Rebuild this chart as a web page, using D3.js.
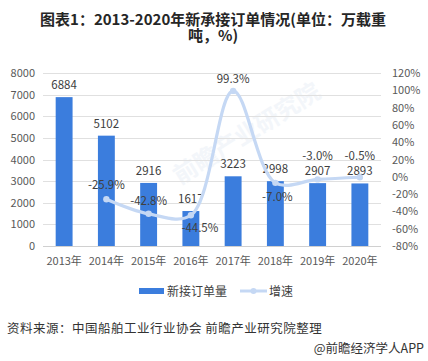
<!DOCTYPE html>
<html><head><meta charset="utf-8">
<script src="https://cdn.jsdelivr.net/npm/d3@7"></script>
<style>
body{margin:0;background:#fff;}
svg{display:block;font-family:"Noto Sans CJK SC","Noto Sans",sans-serif;}
</style></head>
<body>
<div id="chart"></div>
<script>
const categories = ["2013年","2014年","2015年","2016年","2017年","2018年","2019年","2020年"];
const orders = [6884, 5102, 2916, 1617, 3223, 2998, 2907, 2893];
const growth = [null, -25.9, -42.8, -44.5, 99.3, -7.0, -3.0, -0.5];
const leftTicks = [0,1000,2000,3000,4000,5000,6000,7000,8000];
const rightTicks = [-80,-60,-40,-20,0,20,40,60,80,100,120];
const titleLines = ["图表1：2013-2020年新承接订单情况(单位：万载重","吨，%)"];
const legendLabels = ["新接订单量","增速"];
const sourceText = "资料来源：中国船舶工业行业协会 前瞻产业研究院整理";
const creditText = "@前瞻经济学人APP";

const W = 428, H = 361;
const m = {left:43, right:381, top:73, bottom:246};
const barColor = "#3b7ddd", lineColor = "#c5d8f4";

const svg = d3.select("#chart").append("svg").attr("width",W).attr("height",H);

// title
svg.append("g").selectAll("text").data(titleLines).join("text")
  .attr("x",213).attr("y",(d,i)=>25+i*16)
  .attr("text-anchor","middle").attr("font-size","15px").attr("font-weight","bold")
  .attr("fill","#262626").text(d=>d);

const x = d3.scaleBand().domain(categories).range([m.left,m.right]).paddingInner(0.6).paddingOuter(0.3);
const yL = d3.scaleLinear().domain([0,8000]).range([m.bottom,m.top]);
const yR = d3.scaleLinear().domain([-80,120]).range([m.bottom,m.top]);

// watermark
svg.append("text").attr("transform","translate(180,185) rotate(-32)")
  .attr("font-size","24px").attr("font-weight","bold").attr("fill","#f3f6fa")
  .text("前瞻产业研究院");

// grid
svg.append("g").selectAll("line").data(leftTicks).join("line")
  .attr("x1",m.left).attr("x2",m.right)
  .attr("y1",d=>Math.round(yL(d))+0.5).attr("y2",d=>Math.round(yL(d))+0.5)
  .attr("stroke",d=>d===0?"#d0d0d0":"#e0e0e0").attr("stroke-width",1);

// left axis
const axL = svg.append("g").attr("transform",`translate(${m.left},0)`)
  .call(d3.axisLeft(yL).tickValues(leftTicks).tickFormat(d3.format("d")).tickSize(0).tickPadding(8));
axL.select(".domain").remove();
axL.selectAll("text").attr("font-size","11px").attr("fill","#595959").attr("font-family","Noto Sans CJK SC");

// right axis
const axR = svg.append("g").attr("transform",`translate(${m.right},0)`)
  .call(d3.axisRight(yR).tickValues(rightTicks).tickFormat(d=>d+"%").tickSize(0).tickPadding(11));
axR.select(".domain").remove();
axR.selectAll("text").attr("font-size","11px").attr("fill","#595959").attr("font-family","Noto Sans CJK SC");

// x axis
const axX = svg.append("g").attr("transform",`translate(0,${m.bottom})`)
  .call(d3.axisBottom(x).tickSize(0).tickPadding(11));
axX.select(".domain").remove();
axX.selectAll("text").attr("font-size","11px").attr("fill","#595959").attr("font-family","Noto Sans CJK SC");

// bars
svg.append("g").selectAll("rect").data(orders).join("rect")
  .attr("x",(d,i)=>x(categories[i])).attr("width",x.bandwidth())
  .attr("y",d=>yL(d)).attr("height",d=>yL(0)-yL(d)).attr("fill",barColor);

// bar labels
svg.append("g").selectAll("text").data(orders).join("text")
  .attr("x",(d,i)=>x(categories[i])+x.bandwidth()/2)
  .attr("y",d=>yL(d)-8).attr("text-anchor","middle")
  .attr("font-size","11.5px").attr("fill","#404040").text(d=>d);

// line
const pts = growth.map((g,i)=>({g,i})).filter(d=>d.g!==null);
const cx = i=>x(categories[i])+x.bandwidth()/2;
const line = d3.line().x(d=>cx(d.i)).y(d=>yR(d.g)).curve(d3.curveCatmullRom.alpha(0.5));
svg.append("path").datum(pts).attr("d",line).attr("fill","none")
  .attr("stroke",lineColor).attr("stroke-width",3.2).attr("stroke-linecap","round");
svg.append("g").selectAll("circle").data(pts).join("circle")
  .attr("cx",d=>cx(d.i)).attr("cy",d=>yR(d.g)).attr("r",3.2).attr("fill",lineColor);

// growth labels (placement offsets)
const gOff = {1:[0,-14],2:[0,-13],3:[9,13],4:[0,-12],5:[2,14],6:[0,-23],7:[0,-21]};
svg.append("g").selectAll("text").data(pts).join("text")
  .attr("x",d=>cx(d.i)+gOff[d.i][0]).attr("y",d=>yR(d.g)+gOff[d.i][1]+4)
  .attr("text-anchor","middle").attr("font-size","11.5px").attr("fill","#404040")
  .text(d=>d.g.toFixed(1)+"%");

// legend
const lg = svg.append("g");
lg.append("rect").attr("x",139).attr("y",288).attr("width",25).attr("height",6).attr("fill",barColor);
lg.append("text").attr("x",167).attr("y",295.5).attr("font-size","12px").attr("fill","#404040").text(legendLabels[0]);
lg.append("line").attr("x1",240).attr("x2",267).attr("y1",291).attr("y2",291).attr("stroke",lineColor).attr("stroke-width",3);
lg.append("circle").attr("cx",253.5).attr("cy",291).attr("r",3).attr("fill",lineColor);
lg.append("text").attr("x",269).attr("y",295.5).attr("font-size","12px").attr("fill","#404040").text(legendLabels[1]);

// source
svg.append("text").attr("x",7).attr("y",332.5).attr("font-size","12.5px").attr("letter-spacing","0.5px")
  .attr("fill","#333").text(sourceText);
svg.append("text").attr("x",424).attr("y",353).attr("text-anchor","end").attr("font-size","12.5px")
  .attr("fill","#333").text(creditText);
</script>
</body></html>
